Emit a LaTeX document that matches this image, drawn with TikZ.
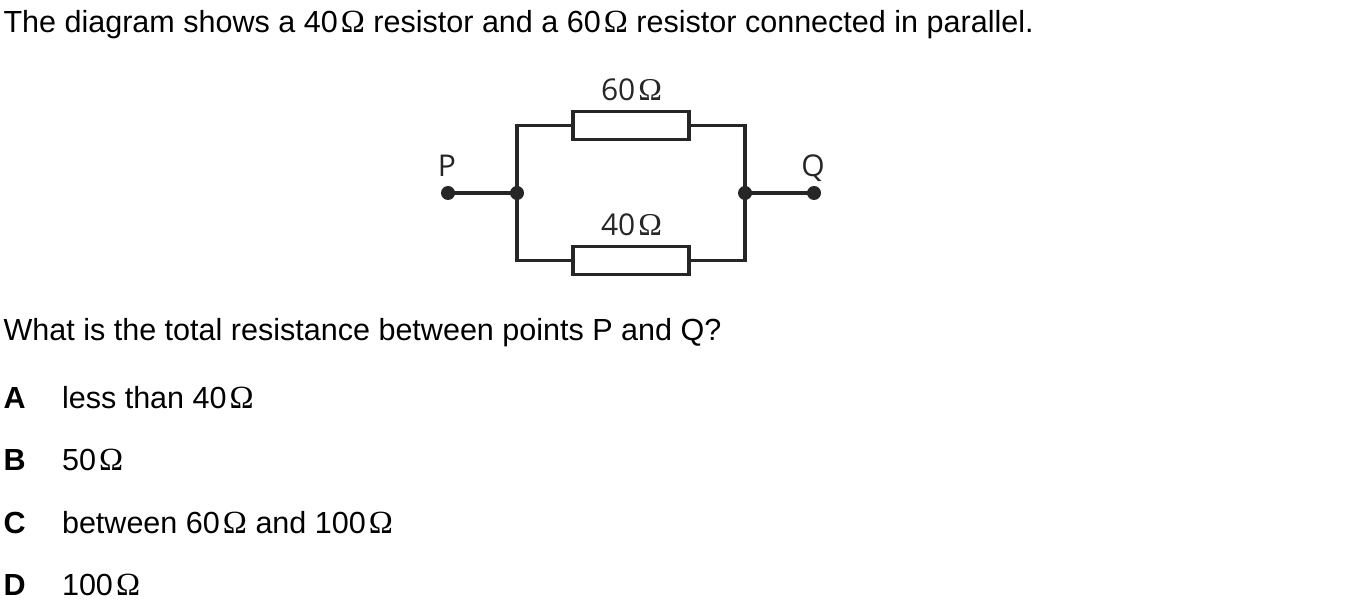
\documentclass[tikz,border=0pt]{standalone}
\usepackage{fontspec}
\setmainfont{Liberation Sans}
\newfontfamily\labelfont{Open Sans}
\newfontfamily\omegafont[Scale=1.06]{Liberation Serif}
\newcommand{\ohm}[1]{#1\kern0.1em{\omegafont\char"03A9}}
\usetikzlibrary{positioning}
\tikzset{
	txt/.style={anchor=base west, inner sep=0pt, font=\fontsize{22.9pt}{27pt}\selectfont},
	opt/.style={txt, font=\fontsize{22.9pt}{27pt}\selectfont\bfseries},
	lab/.style={anchor=base, inner sep=0pt, text=black!85, font=\labelfont\fontsize{22.5pt}{26pt}\selectfont},
	res/.style={draw, rectangle, inner sep=0pt, minimum width=87pt, minimum height=21.5pt},
	dot/.style={circle, fill=black!85, inner sep=0pt, minimum size=10.5pt},
}

\begin{document}
\begin{tikzpicture}[x=0.75pt, y=-0.75pt, line width=2.3pt, draw=black!85]
	\useasboundingbox (0,0) rectangle (1355,605);

	\node[txt] (T1) at (2,33) {The diagram shows a \ohm{40} resistor and a \ohm{60} resistor connected in parallel.};
	\node[txt] (T2) at (2,341) {What is the total resistance between points P and Q?};

	\node[opt] (LA) at (2,408.5) {A};
	\node[opt] (LB) at (2,470.5) {B};
	\node[opt] (LC) at (2,533.5) {C};
	\node[opt] (LD) at (2,595.5) {D};
	\node[txt] (OA) at (60.5,408.5) {less than \ohm{40}};
	\node[txt] (OB) at (60.5,470.5) {\ohm{50}};
	\node[txt] (OC) at (60.5,533.5) {between \ohm{60} and \ohm{100}};
	\node[txt] (OD) at (60.5,595.5) {\ohm{100}};

	\node[dot] (P) at (448,193) {};
	\node[dot] (J1) at (517,193) {};
	\node[dot] (J2) at (745,193) {};
	\node[dot] (Q) at (814,193) {};
	\node[res] (R1) at (631,125.5) {};
	\node[res] (R2) at (631,260.5) {};

	\node[lab] (L1) at (631.5,101) {\ohm{60}};
	\node[lab] (L2) at (631.5,236) {\ohm{40}};
	\node[lab] (LP) at (447,177) {P};
	\node[lab] (LQ) at (813,177) {Q};

	\draw (P.center) -- (J1.center);
	\draw (J2.center) -- (Q.center);
	\draw (J1.center) |- (R1);
	\draw (J1.center) |- (R2);
	\draw (J2.center) |- (R1);
	\draw (J2.center) |- (R2);
\end{tikzpicture}
\end{document}
